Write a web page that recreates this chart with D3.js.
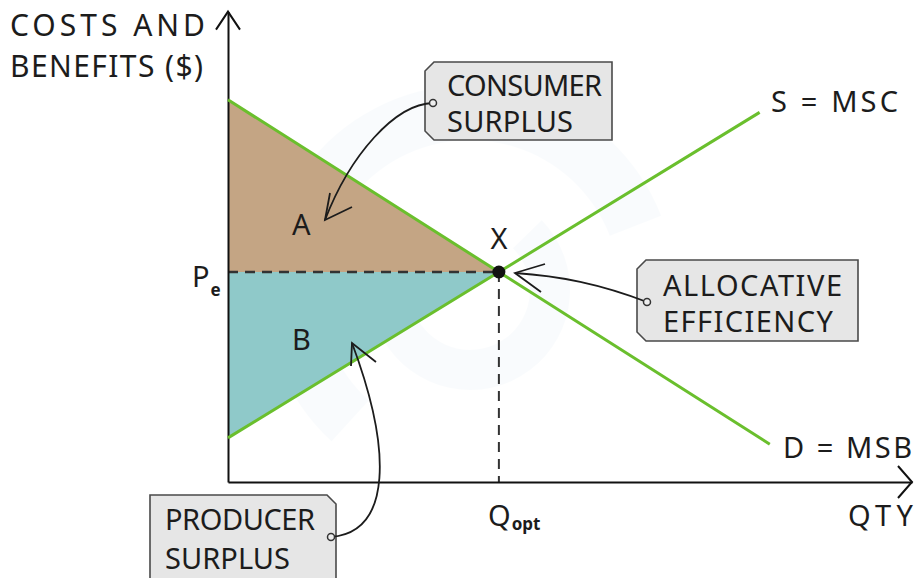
<!DOCTYPE html>
<html>
<head>
<meta charset="utf-8">
<script src="https://cdn.jsdelivr.net/npm/d3@7"></script>
<style>
  body { margin: 0; background: #fff; }
  text { font-family: "Noto Sans", sans-serif; fill: #1c1c1c; }
</style>
</head>
<body>
<div id="chart"></div>
<script>
// quantity / price points
const demandQty = [0, 4, 8.0]
const demandPrice = [9.1, 5, 0.9]
const supplyQty = [0, 4, 7.85]
const supplyPrice = [1.05, 5, 8.8]
const eqQty = 4
const eqPrice = 5

const width = 917, height = 578

const x = d3.scaleLinear().domain([0, 10.1]).range([228, 912])
const y = d3.scaleLinear().domain([0, 11.2]).range([482, 11.6])

const svg = d3.select("#chart").append("svg")
  .attr("width", width)
  .attr("height", height)

// faint watermark
const wm = svg.append("g").attr("opacity", 0.3)
wm.append("path")
  .attr("d", d3.arc().innerRadius(150).outerRadius(205).startAngle(-2.4).endAngle(1.2)())
  .attr("transform", "translate(470,290)")
  .attr("fill", "#eef5fa")
wm.append("path")
  .attr("d", d3.arc().innerRadius(60).outerRadius(100).startAngle(0.8).endAngle(4.2)())
  .attr("transform", "translate(470,290)")
  .attr("fill", "#eef5fa")

const line = d3.line().x(d => x(d[0])).y(d => y(d[1]))
const demand = demandQty.map((q, i) => [q, demandPrice[i]])
const supply = supplyQty.map((q, i) => [q, supplyPrice[i]])

// consumer surplus (A)
svg.append("path")
  .attr("d", line([[0, demandPrice[0]], [eqQty, eqPrice], [0, eqPrice]]) + "Z")
  .attr("fill", "#c4a584")
// producer surplus (B)
svg.append("path")
  .attr("d", line([[0, eqPrice], [eqQty, eqPrice], [0, supplyPrice[0]]]) + "Z")
  .attr("fill", "#8fc9c9")

// dashed guides
svg.append("path")
  .attr("d", line([[0, eqPrice], [eqQty, eqPrice]]))
  .attr("stroke", "#333").attr("stroke-width", 2.5)
  .attr("stroke-dasharray", "10,7").attr("fill", "none")
svg.append("path")
  .attr("d", line([[eqQty, eqPrice], [eqQty, 0]]))
  .attr("stroke", "#333").attr("stroke-width", 2)
  .attr("stroke-dasharray", "10,7").attr("fill", "none")

// axes
svg.append("g")
  .attr("transform", "translate(0," + y(0) + ")")
  .call(d3.axisBottom(x).tickValues([]).tickSizeOuter(0))
svg.append("g")
  .attr("transform", "translate(" + x(0) + ",0)")
  .call(d3.axisLeft(y).tickValues([]).tickSizeOuter(0))
svg.selectAll(".domain").attr("stroke", "#111").attr("stroke-width", 2)

svg.append("path")
  .attr("d", `M${x(10.1) - 14},${y(0) - 16} L${x(10.1)},${y(0)} L${x(10.1) - 14},${y(0) + 16}`)
  .attr("stroke", "#111").attr("stroke-width", 2).attr("fill", "none")
svg.append("path")
  .attr("d", `M${x(0) - 12},${y(11.2) + 18} L${x(0)},${y(11.2)} L${x(0) + 12},${y(11.2) + 18}`)
  .attr("stroke", "#111").attr("stroke-width", 2).attr("fill", "none")

// demand and supply
svg.append("path").attr("d", line(demand))
  .attr("stroke", "#6abf2d").attr("stroke-width", 3).attr("fill", "none")
svg.append("path").attr("d", line(supply))
  .attr("stroke", "#6abf2d").attr("stroke-width", 3).attr("fill", "none")

svg.append("circle")
  .attr("cx", x(eqQty)).attr("cy", y(eqPrice)).attr("r", 6.5)
  .attr("fill", "#111")

// text helper
function label(txt, tx, ty, len, size, anchor) {
  const t = svg.append("text")
    .attr("x", tx).attr("y", ty)
    .attr("font-size", size || 29)
    .attr("text-anchor", anchor || "start")
    .text(txt)
  if (len) t.attr("textLength", len).attr("lengthAdjust", "spacing")
  return t
}

label("COSTS AND", 10, 36, 195, 30)
label("BENEFITS ($)", 10, 77, 193, 30)
label("S = MSC", 771, 112, 127)
label("D = MSB", 783, 458, 129)
label("QTY", 848, 526, 65)
label("X", x(eqQty), 249, null, 29, "middle")
label("A", 292, 235)
label("B", 292, 350)

const q = label("Q", 488, 526)
q.append("tspan").attr("font-size", 17).attr("font-weight", "bold").attr("dy", 4).attr("dx", 1).text("opt")
const p = label("P", 192, 287)
p.append("tspan").attr("font-size", 17).attr("font-weight", "bold").attr("dy", 9).attr("dx", 1).text("e")

// callout tags
function tag(x0, y0, x1, y1, side) {
  const c = 9
  let d
  if (side === "left") {
    d = `M${x0 + c},${y0} L${x1},${y0} L${x1},${y1} L${x0 + c},${y1} L${x0},${y1 - c} L${x0},${y0 + c} Z`
  } else {
    d = `M${x0},${y0} L${x1 - c},${y0} L${x1},${y0 + c} L${x1},${y1 - c} L${x1 - c},${y1} L${x0},${y1} Z`
  }
  svg.append("path").attr("d", d)
    .attr("fill", "#e6e6e6").attr("stroke", "#4a4a4a").attr("stroke-width", 1.6)
}

function arrow(d, tip, a1, a2, hole) {
  svg.append("path").attr("d", d)
    .attr("stroke", "#1c1c1c").attr("stroke-width", 1.8).attr("fill", "none")
  svg.append("path").attr("d", `M${a1} L${tip} L${a2}`)
    .attr("stroke", "#1c1c1c").attr("stroke-width", 1.8).attr("fill", "none")
  svg.append("circle").attr("cx", hole[0]).attr("cy", hole[1]).attr("r", 3.5)
    .attr("fill", "#eee").attr("stroke", "#333").attr("stroke-width", 1.5)
}

tag(425, 62, 612, 140, "left")
label("CONSUMER", 447, 96, 155)
label("SURPLUS", 447, 132, 126)
arrow("M433,103 C395,104 350,155 325,220", [325, 220], [330, 193], [352, 207], [433, 103])

tag(637, 260, 858, 341, "left")
label("ALLOCATIVE", 663, 296, 179)
label("EFFICIENCY", 663, 332, 170)
arrow("M647,302 C600,284 560,276 515,273", [515, 273], [545, 264], [541, 292], [647, 302])

tag(150, 495, 336, 590, "right")
label("PRODUCER", 165, 530, 150)
label("SURPLUS", 165, 569, 125)
arrow("M331,537 C392,532 392,450 352,343", [352, 343], [351, 366], [376, 362], [331, 537])
</script>
</body>
</html>
